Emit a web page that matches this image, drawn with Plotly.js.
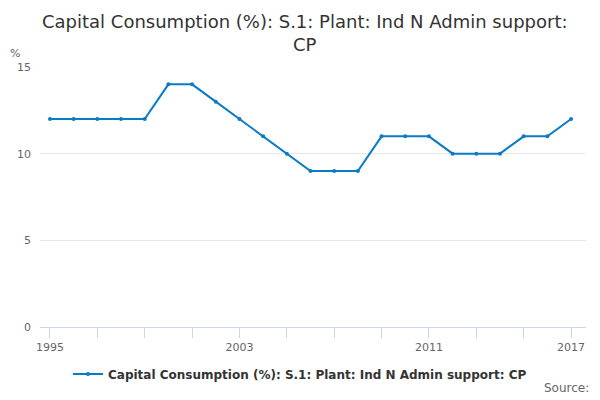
<!DOCTYPE html>
<html>
<head>
<meta charset="utf-8">
<script src="https://cdn.plot.ly/plotly-3.0.1.min.js"></script>
<style>
  html, body { margin: 0; padding: 0; background: #fff; }
  #chart { width: 600px; height: 400px; }
</style>
</head>
<body>
<div id="chart"></div>
<script>
const years = [1995, 1996, 1997, 1998, 1999, 2000, 2001, 2002, 2003, 2004, 2005, 2006,
  2007, 2008, 2009, 2010, 2011, 2012, 2013, 2014, 2015, 2016, 2017];
const values = [12, 12, 12, 12, 12, 14, 14, 13, 12, 11, 10, 9,
  9, 9, 11, 11, 11, 10, 10, 10, 11, 11, 12];
const tickYears = [1995, 1997, 1999, 2001, 2003, 2005, 2007, 2009, 2011, 2013, 2015, 2017];
const labelYears = [1995, 2003, 2011, 2017];
const seriesName = "Capital Consumption (%): S.1: Plant: Ind N Admin support: CP";
const titleText = "Capital Consumption (%): S.1: Plant: Ind N Admin support:<br>CP";

const font = "DejaVu Sans, sans-serif";

const trace = {
  type: "scatter",
  mode: "lines+markers",
  name: seriesName,
  x: years,
  y: values,
  line: { color: "#0a7bc4", width: 2 },
  marker: { color: "#0a7bc4", size: 4 },
  hoverinfo: "x+y",
};

const layout = {
  width: 600,
  height: 400,
  margin: { l: 40, r: 14, t: 67, b: 73 },
  paper_bgcolor: "#fff",
  plot_bgcolor: "#fff",
  font: { family: font, color: "#333" },
  xaxis: {
    range: [1994.58, 2017.63],
    tickvals: tickYears,
    ticktext: tickYears.map(y => (labelYears.includes(y) ? String(y) : "")),
    ticks: "outside",
    ticklen: 10,
    tickcolor: "#ccd6eb",
    showline: true,
    linecolor: "#ccd6eb",
    showgrid: false,
    zeroline: false,
    automargin: false,
    tickfont: { family: font, size: 11, color: "#666" },
    fixedrange: true,
  },
  yaxis: {
    range: [0, 15],
    tickvals: [0, 5, 10, 15],
    showgrid: true,
    gridcolor: "#e6e6e6",
    zeroline: false,
    showline: false,
    ticks: "",
    automargin: false,
    ticklabelstandoff: 8,
    tickfont: { family: font, size: 11, color: "#666" },
    fixedrange: true,
  },
  showlegend: true,
  legend: {
    orientation: "h",
    x: 0.5,
    xanchor: "center",
    xref: "container",
    yref: "container",
    y: 0.065,
    yanchor: "middle",
    font: { family: font, size: 12, color: "#333", weight: "bold" },
  },
  annotations: [
    {
      text: titleText,
      xref: "paper",
      yref: "paper",
      x: 0.485,
      y: 1.225,
      xanchor: "center",
      yanchor: "top",
      showarrow: false,
      font: { family: font, size: 18, color: "#333" },
    },
    {
      text: "%",
      xref: "paper",
      yref: "paper",
      x: -0.058,
      y: 1.018,
      xanchor: "left",
      yanchor: "bottom",
      showarrow: false,
      font: { family: font, size: 11, color: "#666" },
    },
    {
      text: "Source:",
      xref: "paper",
      yref: "paper",
      x: 1.01,
      y: -0.2,
      xanchor: "right",
      yanchor: "top",
      showarrow: false,
      font: { family: font, size: 12, color: "#666" },
    },
  ],
};

Plotly.newPlot("chart", [trace], layout, { displayModeBar: false, staticPlot: true });
</script>
</body>
</html>
